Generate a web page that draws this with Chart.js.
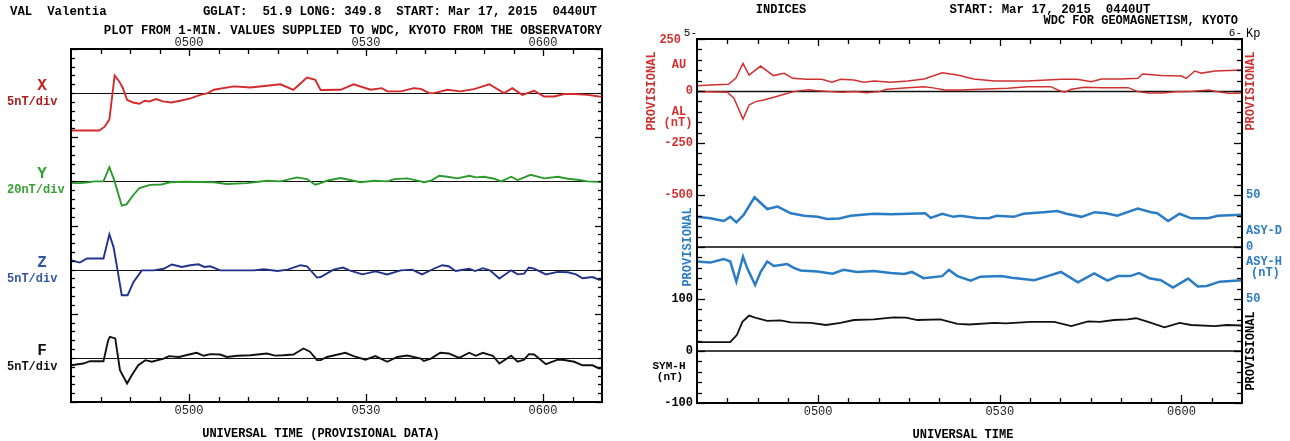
<!DOCTYPE html>
<html><head><meta charset="utf-8">
<script src="https://cdn.jsdelivr.net/npm/chart.js@4.4.1/dist/chart.umd.min.js"></script>
<style>
html,body{margin:0;padding:0;background:#fff;}
body{width:1290px;height:441px;overflow:hidden;position:relative;}
canvas{position:absolute;top:0;}
#c1{left:0;} #c2{left:640px;}
</style></head>
<body>
<canvas id="c1" width="640" height="441"></canvas>
<canvas id="c2" width="650" height="441"></canvas>
<script>
// ---------- time axis (minutes after 04:40 UT) ----------
const tickMinutes = [20, 50, 80];
const tickLabels = ['0500', '0530', '0600'];

// ---------- Valentia (left panel), values in nT ----------
const xTimes = [0,4.8,5.7,6.5,7.4,8.2,8.8,9.5,10.5,11.6,12.5,13.3,14.4,15.6,17,18.7,20.4,21.9,23.2,24.2,27.6,30.4,33.2,35.5,37.7,40,41.4,42.3,45.7,47.9,50.8,52.7,53.6,55.9,58.1,59.3,60.7,61.5,63.8,66,68.3,70.9,73.4,74.8,76.5,78.5,80.2,81.9,83.6,85.3,87.6,89.5,90];
const xVals  = [-21.2,-21.2,-19,-15,10,6.5,2.8,-3.8,-5.3,-6,-4.3,-4.7,-3.4,-4.7,-5.3,-4.2,-2.8,-1,0,1.9,3.8,3.2,4.2,5,1.9,8.8,7.5,1.8,1.9,5,1.9,2.8,1,1,2.8,2.4,0,0,1.9,1,2.3,5,0,2.8,-1,1.3,-1.9,-1.9,-0.5,-0.5,-1,-1.9,-2];

const yTimes = [0,1.5,2.9,4,5.5,6.5,7.3,8.6,9.4,10.5,11.6,13.4,15.3,16.8,19.2,24.2,26.4,29.8,33.2,35.5,38.3,40,41.4,42.3,43.5,45.7,47.9,49,51.4,53.6,54.8,57,59.3,59.8,61,62.4,63.8,65.5,67.5,68.6,70,71.7,72.9,74.6,75.7,77.9,80.2,82.5,84.2,86.2,87.5,90];
const yVals  = [-3,-4,-2,0,0,32,4,-55,-52,-32,-15,-8,-7,-2,-1,-2,-6,-4,1.4,0,9,5.2,-7.6,-4,2,7.6,1.4,-2,1.4,0,5.2,6.8,0,-2,1.4,12.8,10.6,6.8,12.8,9,10.6,6,0,10.6,3,15,6.8,10.6,6,3,0,-1.4];

const zTimes = [0,1.5,2.7,5.5,6.5,7.2,7.9,8.6,9.6,10.6,12,14,15.7,17.1,18.8,20.2,21.6,22.6,23.6,25.3,31,32.7,35,36.7,38.9,40,41.7,42.3,44.5,46.1,47.2,49.4,51.6,53.6,55.9,57.8,59.5,61.5,62.9,64,65.2,67.5,68.5,69.8,71,72.6,74.6,75.7,76.8,77.6,78.5,80.5,82.5,84.2,85.6,86.7,88.4,89.5,90];
const zVals  = [5.3,4,6.3,6.3,20,12.9,-0.4,-14.5,-14.5,-7,-0.4,-0.4,0.5,2.9,1.5,2.5,3,1.5,1.9,-0.4,-0.4,0.2,-0.8,0,2.5,1.9,-4.5,-4.2,0,1.2,-0.4,-2.7,-1,-2.7,-0.4,0,-2.7,0.5,2.5,1.9,-0.8,0.5,-0.8,0.8,-0.4,-5,-0.4,-2.7,-2.3,1.2,0.6,-2.7,-1.3,-1.5,-2.7,-4.9,-4.2,-5.7,-5.5];

const fTimes = [0,2.1,3.2,5.5,6.3,6.6,7.5,8.3,9.5,10.3,11.4,12.6,13.7,15.7,16.6,18.3,20,21.3,22.5,23.6,25.3,26.4,28.2,30.4,33.2,34.6,36,37.7,39.4,40.5,41.7,42.3,43.4,46.5,47.9,49.9,51.6,53.6,55.3,57,59.3,59.8,61,62.6,64,65.8,67.5,68.6,69.8,71.5,72.6,74.6,75.7,76.8,77.6,78.5,80.5,82.5,83.6,85.3,86.7,88.4,89.5,90];
const fVals  = [-4.2,-3.2,-1.9,-1.9,10,11.9,11,-7,-14.5,-9.8,-4.2,-1.3,-2.2,-0.4,1,0.5,1.9,2.9,1.2,2.1,1.9,0.5,1.2,1.5,2.5,1.3,1.5,1.9,5.3,3.5,-1.3,-1.3,0.5,2.9,1,-1,1,-2.2,0.5,1.3,-0.4,-1.7,-0.4,2.9,2.5,0,2.9,1.2,2.9,1.2,-3.2,1.2,-2.2,-1,2.1,1.9,-3.6,-1,-1.2,-2.2,-4.2,-4.2,-6,-5.8];

// ---------- Indices (right panel), values in nT ----------
const auTimes = [0,2.2,5.2,6.4,7.6,8.6,10.5,12.6,14.4,15.8,18.1,20.6,22.3,23.7,25.9,27.5,29.3,32,34.8,37.5,40.5,43,45.7,49.1,54.6,60.1,62.8,65.1,66.8,70,72.8,73.6,76.7,80,80.8,82.2,83.3,85.6,87.8,90];
const auVals  = [25,29,32,61,133,77,120,74,85,61,56,56,42,56,53,42,48,42,48,58,88,77,58,48,48,56,56,45,58,58,61,82,74,72,61,96,86,96,98,101];

const alTimes = [0,5,6.1,7.6,8.6,9.7,11,12.7,14.4,16,17.5,18.5,19.5,22,24,26,28,30,31.4,34.8,37.5,39,40.9,43.5,46.7,51.3,54.6,58.4,59.6,60.7,61.8,64,66.8,71.2,72.8,74.5,77,79,81.2,84.5,86,87.8,90];
const alVals  = [-3,-6,-35,-135,-67,-51,-43,-30,-16,-3,3,6,2,-3,-6,-2,-8,-3,8,16,21,15,5,5,8,13,21,21,5,-6,8,18,16,16,-3,-10,-10,-4,-3,5,-4,-11,-11];

const asyDTimes = [0,2.2,4.4,5.5,6.5,7.7,9.5,11.6,13.3,15.5,17.7,19.9,21.5,23.5,25.4,29.2,32,35,37.7,38.6,40.5,42.4,43.5,46.2,48.2,49.5,52.3,53.9,57.2,59.5,61,63.5,65.7,67.5,69.4,72.8,75,76,77.8,79.7,81.6,84.4,86,90];
const asyDVals  = [29,27.6,25,29,23.7,30.8,47.8,36.5,38.8,32.4,30,29,27,27.5,30,32,31.5,32,32.4,28,32,29,30,28,27.6,30,29,32,33.5,34.6,32,29,33.5,32.5,30,37,33.5,32.5,25,32,27.6,27.6,30,31];

const asyHTimes = [0,2.2,4.4,5.5,6.5,7.6,8.3,9.6,10.5,11.6,12.7,14.9,16,17.1,19.9,22.4,24.2,26.4,29.2,32,34.2,35.5,37.4,40.5,41.6,43,45.2,46.8,50.2,52,55.7,57.9,60.1,62.9,65.6,67.8,69.5,71.5,73,74.7,76.6,78.6,81.1,82.7,84.2,86.3,90];
const asyHVals  = [86,85,88.5,86,66.6,90.7,79.5,63.5,76,86,81.7,83.6,80,77.5,76.5,74.3,78,76,77,75,74,76,70,72,78,72,67.6,71.5,72,70.5,68,72,76,66,74.7,67.6,72,72,75,70,68,61,69.6,62,62.5,66.7,68];

const symHTimes = [0,5.5,6.6,7.5,8.6,9.9,11.6,13.8,15.5,18.8,21.3,23.7,25.9,29.2,32.5,34.5,36.4,40.2,43,45,49.1,51,55.1,59,61.8,64.6,66.5,68.9,71.1,72.5,74.5,77.2,79.7,81.6,85.5,87.5,90];
const symHVals  = [17,17,31,56,68,63,58,59,55,54,50,54,59.6,61,64.7,64,59.6,61,52,51,54,53,56,56,48,57,56,59.6,61,63,56,45.5,54,50,48,50,49];

// ---------- helpers ----------
const FONT = '"Liberation Mono", "DejaVu Sans Mono", monospace';
function pts(ts, vs, f) {
  const n = Math.min(ts.length, vs.length), out = [];
  for (let i = 0; i < n; i++) out.push({x: ts[i], y: f(vs[i])});
  return out;
}
function txt(ctx, s, x, y, o) {
  o = o || {};
  ctx.save();
  ctx.font = (o.bold === false ? '' : 'bold ') + (o.size || 12) + 'px ' + FONT;
  ctx.fillStyle = o.color || '#000';
  ctx.textAlign = o.align || 'left';
  ctx.textBaseline = 'middle';
  if (o.rot) { ctx.translate(x, y); ctx.rotate(o.rot); ctx.fillText(s, 0, 0); }
  else ctx.fillText(s, x, y);
  ctx.restore();
}
function seg(ctx, x1, y1, x2, y2) { ctx.beginPath(); ctx.moveTo(x1, y1); ctx.lineTo(x2, y2); ctx.stroke(); }
function timeTicks(ctx, a, xs) {
  for (let t = 5; t < 90; t += 5) {
    const px = Math.round(xs.getPixelForValue(t)) + 0.5;
    const major = (t - 20) % 30 === 0;
    seg(ctx, px, a.top, px, a.top + (major ? 7 : 5));
    seg(ctx, px, a.bottom, px, a.bottom - (major ? 8 : 5));
  }
}

// ---------- left panel ----------
const bandX = {c: 35, div: 5}, bandY = {c: 25, div: 20}, bandZ = {c: 15, div: 5}, bandF = {c: 5, div: 5};
const leftDeco = {
  id: 'leftDeco',
  beforeDatasetsDraw(chart) {
    const {ctx, chartArea: a, scales: {y}} = chart;
    ctx.save(); ctx.strokeStyle = '#111'; ctx.lineWidth = 1.2;
    [bandX, bandY, bandZ, bandF].forEach(b => {
      const py = Math.round(y.getPixelForValue(b.c)) + 0.5;
      seg(ctx, a.left, py, a.right, py);
    });
    ctx.restore();
  },
  afterDatasetsDraw(chart) {
    const {ctx, chartArea: a, scales: {x, y}} = chart;
    ctx.save();
    ctx.strokeStyle = '#000'; ctx.lineWidth = 1.3;
    for (let u = 0; u <= 40; u++) {
      const py = Math.round(y.getPixelForValue(u)) + 0.5;
      const len = u % 10 === 0 ? 7 : 4;
      seg(ctx, a.left, py, a.left + len, py);
      seg(ctx, a.right, py, a.right - len, py);
    }
    timeTicks(ctx, a, x);
    ctx.lineWidth = 2;
    ctx.strokeRect(a.left, a.top, a.right - a.left, a.bottom - a.top);
    ctx.restore();

    txt(ctx, 'VAL  Valentia', 10, 12, {size: 12.4});
    txt(ctx, 'GGLAT:  51.9 LONG: 349.8  START: Mar 17, 2015  0440UT', 597, 12, {align: 'right', size: 12.4});
    txt(ctx, 'PLOT FROM 1-MIN. VALUES SUPPLIED TO WDC, KYOTO FROM THE OBSERVATORY', 602, 31, {align: 'right', size: 12.4});
    tickMinutes.forEach((t, i) => {
      const px = x.getPixelForValue(t);
      txt(ctx, tickLabels[i], px, 43, {align: 'center', bold: false, color: '#222'});
      txt(ctx, tickLabels[i], px, 411, {align: 'center', bold: false, color: '#222'});
    });
    txt(ctx, 'UNIVERSAL TIME (PROVISIONAL DATA)', 321, 434, {align: 'center'});

    const lab = [
      [bandX, 'X', '5nT/div', '#c0201f', '#a81c1c'],
      [bandY, 'Y', '20nT/div', '#33a033', '#33a033'],
      [bandZ, 'Z', '5nT/div', '#3355a0', '#3355a0'],
      [bandF, 'F', '5nT/div', '#111', '#111']
    ];
    lab.forEach(([b, n, d, c1, c2]) => {
      const py = y.getPixelForValue(b.c);
      txt(ctx, n, 42, py - 7, {align: 'center', size: 16, color: c1});
      txt(ctx, d, 7, py + 9, {size: 12, color: c2});
    });
  }
};

new Chart(document.getElementById('c1'), {
  type: 'line',
  data: {datasets: [
    {label: 'X', data: pts(xTimes, xVals, v => bandX.c + v / bandX.div), borderColor: '#d42a2a', borderWidth: 1.9},
    {label: 'Y', data: pts(yTimes, yVals, v => bandY.c + v / bandY.div), borderColor: '#2a9a2a', borderWidth: 1.9},
    {label: 'Z', data: pts(zTimes, zVals, v => bandZ.c + v / bandZ.div), borderColor: '#22328c', borderWidth: 1.9},
    {label: 'F', data: pts(fTimes, fVals, v => bandF.c + v / bandF.div), borderColor: '#111111', borderWidth: 1.9}
  ]},
  options: {
    responsive: false, animation: false, events: [],
    layout: {padding: {left: 71, right: 38, top: 49, bottom: 39}},
    scales: {
      x: {type: 'linear', min: 0, max: 90, display: false},
      y: {type: 'linear', min: 0, max: 40, display: false}
    },
    elements: {point: {radius: 0}, line: {tension: 0, fill: false}},
    plugins: {legend: {display: false}, tooltip: {enabled: false}}
  },
  plugins: [leftDeco]
});

// ---------- right panel ----------
// one internal axis: AU/AL -> 500 + 0.4 v ; ASY-D -> 200 + 2 v ; ASY-H -> 2 v ; SYM-H -> v
const RED = '#d03030', BLUE = '#2a7cc4';
const rightDeco = {
  id: 'rightDeco',
  beforeDatasetsDraw(chart) {
    const {ctx, chartArea: a, scales: {y}} = chart;
    ctx.save();
    ctx.strokeStyle = '#111'; ctx.lineWidth = 1.5;
    let py = Math.round(y.getPixelForValue(500)) + 0.5; seg(ctx, a.left, py, a.right, py);
    ctx.strokeStyle = '#444'; ctx.lineWidth = 2;
    py = Math.round(y.getPixelForValue(200)); seg(ctx, a.left, py, a.right, py);
    py = Math.round(y.getPixelForValue(0)); seg(ctx, a.left, py, a.right, py);
    ctx.restore();
  },
  afterDatasetsDraw(chart) {
    const {ctx, chartArea: a, scales: {x, y}} = chart;
    ctx.save();
    ctx.strokeStyle = '#000'; ctx.lineWidth = 1.3;
    for (let u = -100; u <= 600; u += 20) {
      const py = Math.round(y.getPixelForValue(u)) + 0.5;
      const len = u % 100 === 0 ? 8 : 5;
      seg(ctx, a.left, py, a.left + len, py);
      seg(ctx, a.right, py, a.right - len, py);
    }
    timeTicks(ctx, a, x);
    ctx.lineWidth = 2;
    ctx.strokeRect(a.left, a.top, a.right - a.left, a.bottom - a.top);
    ctx.restore();

    txt(ctx, 'INDICES', 141, 10, {align: 'center'});
    txt(ctx, 'START: Mar 17, 2015  0440UT', 410, 10, {align: 'center', size: 12.4});
    txt(ctx, 'WDC FOR GEOMAGNETISM, KYOTO', 598, 21, {align: 'right'});
    txt(ctx, '5-', a.left, 33, {align: 'right', size: 11, bold: false});
    txt(ctx, '6-', a.right, 33, {align: 'right', size: 11, bold: false});
    txt(ctx, 'Kp', a.right + 4, 34, {size: 12, bold: false});

    tickMinutes.forEach((t, i) => {
      txt(ctx, tickLabels[i], x.getPixelForValue(t), 412, {align: 'center', bold: false, color: '#222'});
    });
    txt(ctx, 'UNIVERSAL TIME', 323, 435, {align: 'center'});

    const L = a.left - 4;
    txt(ctx, '250', 41, y.getPixelForValue(600) + 1, {align: 'right', color: RED});
    txt(ctx, '0', L, y.getPixelForValue(500), {align: 'right', color: RED});
    txt(ctx, '-250', L, y.getPixelForValue(400), {align: 'right', color: RED});
    txt(ctx, '-500', L, y.getPixelForValue(300), {align: 'right', color: RED});
    txt(ctx, 'PROVISIONAL', 12, y.getPixelForValue(500), {align: 'center', color: RED, rot: -Math.PI / 2});
    txt(ctx, 'AU', 39, 65, {align: 'center', color: RED});
    txt(ctx, 'AL', 39, 112, {align: 'center', color: RED});
    txt(ctx, '(nT)', 38, 123, {align: 'center', color: RED});
    txt(ctx, 'PROVISIONAL', 48, y.getPixelForValue(200), {align: 'center', color: BLUE, rot: -Math.PI / 2});
    txt(ctx, '100', L, y.getPixelForValue(100), {align: 'right'});
    txt(ctx, '0', L, y.getPixelForValue(0), {align: 'right'});
    txt(ctx, '-100', L, y.getPixelForValue(-100), {align: 'right'});
    txt(ctx, 'SYM-H', 29, 366, {align: 'center', size: 11});
    txt(ctx, '(nT)', 30, 377, {align: 'center', size: 11});

    const R = a.right + 4;
    txt(ctx, 'PROVISIONAL', 611, y.getPixelForValue(500), {align: 'center', color: RED, rot: -Math.PI / 2});
    txt(ctx, '50', R, y.getPixelForValue(300), {color: BLUE});
    txt(ctx, 'ASY-D', R, 231, {color: BLUE});
    txt(ctx, '0', R, y.getPixelForValue(200), {color: BLUE});
    txt(ctx, 'ASY-H', R, 262, {color: BLUE});
    txt(ctx, '(nT)', R + 5, 273, {color: BLUE});
    txt(ctx, '50', R, y.getPixelForValue(100), {color: BLUE});
    txt(ctx, 'PROVISIONAL', 611, y.getPixelForValue(0), {align: 'center', rot: -Math.PI / 2});
  }
};

new Chart(document.getElementById('c2'), {
  type: 'line',
  data: {datasets: [
    {label: 'AU', data: pts(auTimes, auVals, v => 500 + 0.4 * v), borderColor: RED, borderWidth: 1.5},
    {label: 'AL', data: pts(alTimes, alVals, v => 500 + 0.4 * v), borderColor: RED, borderWidth: 1.5},
    {label: 'ASY-D', data: pts(asyDTimes, asyDVals, v => 200 + 2 * v), borderColor: BLUE, borderWidth: 2.5},
    {label: 'ASY-H', data: pts(asyHTimes, asyHVals, v => 2 * v), borderColor: BLUE, borderWidth: 2.5},
    {label: 'SYM-H', data: pts(symHTimes, symHVals, v => v), borderColor: '#111111', borderWidth: 1.8}
  ]},
  options: {
    responsive: false, animation: false, events: [],
    layout: {padding: {left: 57, right: 48, top: 39, bottom: 38}},
    scales: {
      x: {type: 'linear', min: 0, max: 90, display: false},
      y: {type: 'linear', min: -100, max: 600, display: false}
    },
    elements: {point: {radius: 0}, line: {tension: 0, fill: false}},
    plugins: {legend: {display: false}, tooltip: {enabled: false}}
  },
  plugins: [rightDeco]
});
</script>
</body></html>
